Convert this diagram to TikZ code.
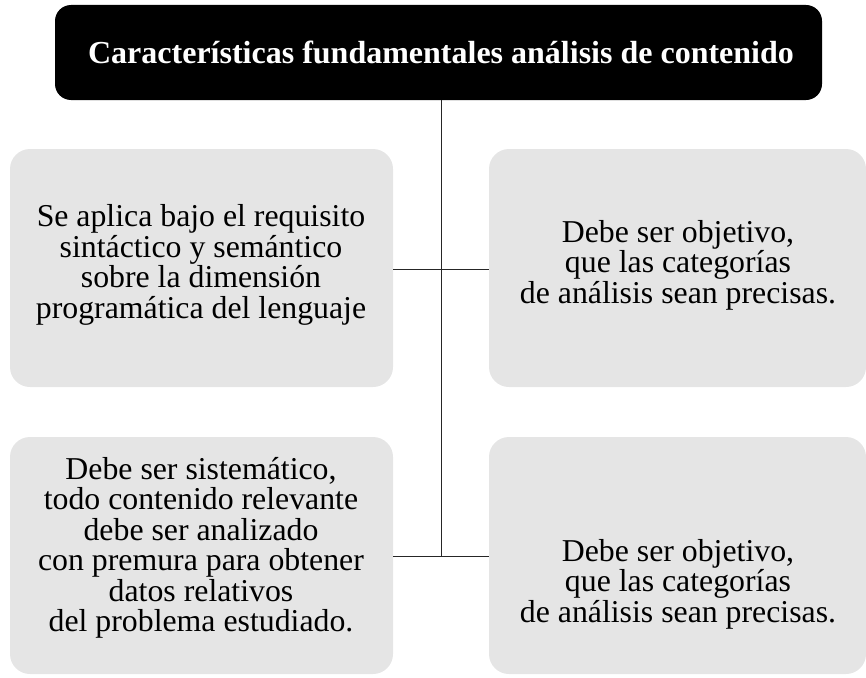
\documentclass[tikz,border=0pt]{standalone}
\usepackage{fontspec}
\setmainfont{Liberation Serif}
\begin{document}
\begin{tikzpicture}[x=1pt,y=-1pt,
  titlebox/.style={fill=black,rounded corners=16pt,draw=none},
  graybox/.style={fill=black!10,rounded corners=20pt,draw=none},
  btext/.style={align=center,font=\fontsize{31.8}{30.5}\selectfont,inner sep=0pt},
  conn/.style={line width=1pt,black!85}]
\useasboundingbox (0,0) rectangle (866,677);
\fill[titlebox] (55,5) rectangle (822,100);
\coordinate (ttop) at (441,100);
\node[text=white,font=\fontsize{32}{36}\selectfont\bfseries,inner sep=0pt] (title) at (441,52) {Características fundamentales análisis de contenido};
\fill[graybox] (10,149) rectangle (393,387);
\fill[graybox] (489,149) rectangle (866,387);
\fill[graybox] (10,437) rectangle (393,674);
\fill[graybox] (489,437) rectangle (866,674);
\coordinate (l1) at (393,269);
\coordinate (r1) at (489,269);
\coordinate (l2) at (393,556);
\coordinate (r2) at (489,556);
\coordinate (m1) at (441,269);
\coordinate (m2) at (441,556);
\node[btext] (t1) at (201,265) {Se aplica bajo el requisito\\sintáctico y semántico\\sobre la dimensión\\programática del lenguaje};
\node[btext] (t2) at (678,265) {Debe ser objetivo,\\que las categorías\\de análisis sean precisas.};
\node[btext] (t3) at (201,548) {Debe ser sistemático,\\todo contenido relevante\\debe ser analizado\\con premura para obtener\\datos relativos\\del problema estudiado.};
\node[btext] (t4) at (678,584) {Debe ser objetivo,\\que las categorías\\de análisis sean precisas.};
\draw[conn] (ttop) -- (m2);
\draw[conn] (l1) -- (r1);
\draw[conn] (l2) -- (r2);
\end{tikzpicture}
\end{document}
